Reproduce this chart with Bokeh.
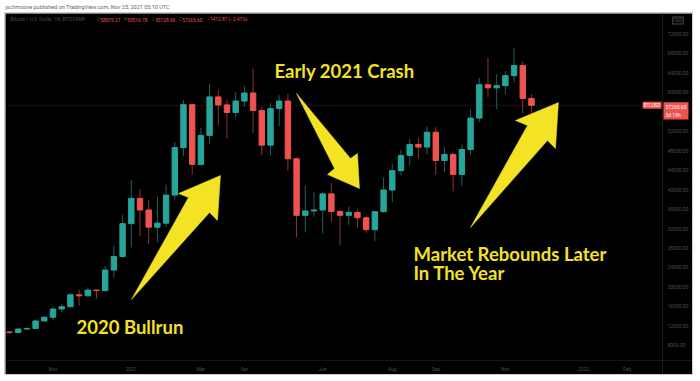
import pandas as pd
from bokeh.plotting import figure
from bokeh.models import (Range1d, FixedTicker, NumeralTickFormatter, Label, Span,
                          ColumnDataSource, LinearAxis)
from bokeh.layouts import column
from bokeh.embed import file_html
from bokeh.resources import INLINE

# Weekly BTC/USD candles (Bitstamp), week start dates
weeks = ["2020-09-28", "2020-10-05", "2020-10-12", "2020-10-19", "2020-10-26", "2020-11-02",
         "2020-11-09", "2020-11-16", "2020-11-23", "2020-11-30", "2020-12-07", "2020-12-14",
         "2020-12-21", "2020-12-28", "2021-01-04", "2021-01-11", "2021-01-18", "2021-01-25",
         "2021-02-01", "2021-02-08", "2021-02-15", "2021-02-22", "2021-03-01", "2021-03-08",
         "2021-03-15", "2021-03-22", "2021-03-29", "2021-04-05", "2021-04-12", "2021-04-19",
         "2021-04-26", "2021-05-03", "2021-05-10", "2021-05-17", "2021-05-24", "2021-05-31",
         "2021-06-07", "2021-06-14", "2021-06-21", "2021-06-28", "2021-07-05", "2021-07-12",
         "2021-07-19", "2021-07-26", "2021-08-02", "2021-08-09", "2021-08-16", "2021-08-23",
         "2021-08-30", "2021-09-06", "2021-09-13", "2021-09-20", "2021-09-27", "2021-10-04",
         "2021-10-11", "2021-10-18", "2021-10-25", "2021-11-01", "2021-11-08", "2021-11-15",
         "2021-11-22"]

opens = [10780, 10670, 11380, 11500, 13030, 13800, 15480, 15960, 18400, 18180, 19360, 19270,
         23480, 26250, 33000, 38180, 35800, 32260, 33100, 38850, 48600, 57400, 45150, 51100,
         59000, 57350, 55800, 58150, 59800, 56200, 49100, 56600, 58150, 46300, 34700, 35600,
         35800, 39100, 35500, 34700, 35300, 34200, 31750, 35450, 39900, 43850, 47000, 49250,
         48700, 51750, 45950, 47200, 43100, 48200, 54650, 61500, 60850, 61300, 63350, 65450,
         58679.27]
highs = [10950, 11490, 11720, 13350, 14080, 15970, 16480, 18810, 19480, 19920, 19420, 24300,
         28400, 34800, 41950, 40100, 37800, 38550, 41000, 49700, 58350, 57600, 52600, 61700,
         60500, 58400, 60000, 61200, 64800, 57000, 57800, 59400, 59600, 46600, 40800, 39400,
         39500, 41300, 35800, 36500, 35900, 34600, 35500, 42500, 45300, 48150, 50400, 50600,
         52900, 52800, 48700, 47600, 49200, 56400, 62900, 67000, 63700, 64300, 68950, 66300,
         59516.78]
lows = [10380, 10540, 11220, 11410, 12960, 13200, 14800, 15800, 16200, 18100, 17600, 19000,
        21900, 25900, 28130, 30400, 28800, 29200, 32300, 37900, 46900, 43000, 44900, 49300,
        53300, 50400, 54800, 57000, 51600, 47000, 47000, 53000, 43900, 30200, 31300, 34400,
        31000, 33300, 28600, 32700, 32100, 31100, 29400, 35250, 37400, 42900, 44900, 46300,
        47150, 43050, 43550, 39650, 40800, 47150, 53800, 58950, 56500, 59600, 62000, 55650,
        55128.60]
closes = [10670, 11380, 11500, 13030, 13800, 15480, 15960, 18400, 18180, 19360, 19270, 23480,
          26250, 33000, 38180, 35800, 32260, 33100, 38850, 48600, 57400, 45150, 51100, 59000,
          57350, 55800, 58150, 59800, 56200, 49100, 56600, 58150, 46300, 34700, 35600, 35800,
          39100, 35500, 34700, 35300, 34200, 31750, 35450, 39900, 43850, 47000, 49250, 48700,
          51750, 45950, 47200, 43100, 48200, 54650, 61500, 60850, 61300, 63350, 65450, 58678.47,
          57265.60]

# Time-scale labels: first weekly bar of each labelled month
month_dates = ["2020-11-02", "2021-01-04", "2021-03-01", "2021-04-05", "2021-06-07",
               "2021-08-02", "2021-09-06", "2021-11-01", "2022-01-03", "2022-02-07"]
month_labels = ["Nov", "2021", "Mar", "Apr", "Jun", "Aug", "Sep", "Nov", "2022", "Feb"]

price_ticks = [8000, 12000, 16000, 20000, 24000, 28000, 32000, 36000, 40000, 44000,
               48000, 52000, 56000, 60000, 64000, 68000, 72000]

UP = "#26a69a"
DOWN = "#ef5350"
YELLOW = "#f4e225"
DIM = "#4d4d4d"
SMALL_FONT = "Roboto"
BIG_FONT = "Lato"

# price-scale and time-scale edges inside the dark panel (bar index / price)
SCALE_X = 75.06
SCALE_Y = 4923

t0 = pd.Timestamp(weeks[0])
bar = [(pd.Timestamp(w) - t0).days / 7 for w in weeks]
month_bar = [(pd.Timestamp(d) - t0).days / 7 for d in month_dates]

# ---- header strip above the chart panel
head = figure(width=700, height=13, x_range=Range1d(0, 700), y_range=Range1d(0, 13),
              output_backend="svg", toolbar_location=None, x_axis_location=None,
              y_axis_location=None, min_border=0, outline_line_color=None,
              background_fill_color="white", border_fill_color="white")
head.grid.visible = False
head.add_layout(Label(x=5, y=6.5, text="jschmoove published on TradingView.com, Nov 25, 2021 05:10 UTC",
                      text_font=SMALL_FONT, text_font_size="5.5px", text_color="#666666",
                      text_baseline="middle"))

# ---- main chart panel (price and time scales live inside the dark frame)
p = figure(width=687, height=361, x_range=Range1d(-0.46, 78.51), y_range=Range1d(2051, 76103),
           output_backend="svg", toolbar_location=None, x_axis_location=None,
           y_axis_location=None, min_border=0,
           background_fill_color="black", border_fill_color="black", outline_line_color=None,
           margin=(0, 8, 7, 5), styles={"outline": "1px solid #cfcfcf"})
p.grid.visible = False

yax = LinearAxis(fixed_location=SCALE_X, ticker=FixedTicker(ticks=price_ticks),
                 formatter=NumeralTickFormatter(format="0.00"))
yax.major_label_text_color = DIM
yax.major_label_text_font = SMALL_FONT
yax.major_label_text_font_size = "5px"
yax.major_tick_line_color = None
yax.major_tick_out = 0
yax.major_tick_in = 0
yax.minor_tick_line_color = None
yax.axis_line_color = "#1e1e1e"
yax.major_label_standoff = 5
p.add_layout(yax, "right")

xax = LinearAxis(fixed_location=SCALE_Y, ticker=FixedTicker(ticks=month_bar),
                 major_label_overrides={b: lab for b, lab in zip(month_bar, month_labels)})
xax.major_label_text_color = DIM
xax.major_label_text_font = SMALL_FONT
xax.major_label_text_font_size = "5px"
xax.major_tick_line_color = None
xax.major_tick_out = 0
xax.major_tick_in = 0
xax.minor_tick_line_color = None
xax.axis_line_color = "#161616"
xax.major_label_standoff = 6
p.add_layout(xax, "below")

# candles
def candle_source(rising):
    sel = [i for i in range(len(closes)) if (closes[i] >= opens[i]) == rising]
    return ColumnDataSource(dict(
        x=[bar[i] for i in sel],
        high=[highs[i] for i in sel],
        low=[lows[i] for i in sel],
        top=[max(opens[i], closes[i]) for i in sel],
        bottom=[min(opens[i], closes[i]) for i in sel],
    ))

for rising, col in ((True, UP), (False, DOWN)):
    src = candle_source(rising)
    p.segment(x0="x", y0="low", x1="x", y1="high", source=src, line_color=col,
              line_alpha=0.6, line_width=1)
    p.vbar(x="x", width=0.62, top="top", bottom="bottom", source=src,
           fill_color=col, line_color=col, line_width=1)

last_close = closes[-1]
p.add_layout(Span(location=last_close, dimension="width", line_color=DOWN, line_alpha=0.45,
                  line_dash="1 2", line_width=1))

# annotation arrows, vertices in (bar, price)
arrows = [
    ([14.02, 20.57, 19.43, 24.25, 23.91, 22.99], [17436, 38359, 39179, 42872, 33641, 35282]),
    ([32.99, 39.20, 40.00, 40.23, 36.55, 37.36], [59693, 46359, 47385, 40205, 43077, 44308]),
    ([52.99, 59.54, 58.16, 63.10, 62.76, 61.84], [32205, 53129, 54155, 57847, 48410, 50052]),
]
p.patches(xs=[a[0] for a in arrows], ys=[a[1] for a in arrows], fill_color=YELLOW,
          line_color=YELLOW, line_width=0.5)

notes = [
    ("2020 Bullrun", 7.70, 11700),
    ("Early 2021 Crash", 30.46, 64410),
    ("Market Rebounds Later", 46.44, 26670),
    ("In The Year", 46.44, 22970),
]
for txt, bx, py in notes:
    p.add_layout(Label(x=bx, y=py, text=txt, text_color=YELLOW, text_font=BIG_FONT,
                       text_font_size="18.5px", text_font_style="bold",
                       text_baseline="alphabetic"))

# symbol tag and last price tag
p.add_layout(Label(x=SCALE_X, y=last_close, x_offset=-1, text="BTCUSD", text_align="right",
                   text_baseline="middle", text_color="white", text_font=SMALL_FONT,
                   text_font_size="4.5px", background_fill_color=DOWN, padding=1))
p.add_layout(Label(x=SCALE_X, y=last_close, x_offset=1, y_offset=3,
                   text=f"{last_close:.2f}\n3d 19h", text_align="left", text_baseline="top",
                   text_color="white", text_font=SMALL_FONT, text_font_size="5px",
                   background_fill_color=DOWN, padding=2))

# currency badge at the top of the price scale
p.add_layout(Label(x=76.84, y=74670, text="USD", text_align="center", text_baseline="middle",
                   text_color="#5a5a5a", text_font=SMALL_FONT, text_font_size="4.5px",
                   border_line_color="#4a4a4a", border_line_width=1, padding=1))

# OHLC legend line
change = closes[-1] - closes[-2]
pct = change / closes[-2] * 100
legend_parts = [
    ("Bitcoin / U.S. Dollar, 1W, BITSTAMP:", 0.12, DIM),
    ("O", 10.03, DIM), (f"{opens[-1]:.2f}", 10.43, DOWN),
    ("H", 13.13, DIM), (f"{highs[-1]:.2f}", 13.53, DOWN),
    ("L", 16.40, DIM), (f"{lows[-1]:.2f}", 16.74, DOWN),
    ("C", 19.50, DIM), (f"{closes[-1]:.2f}", 19.85, DOWN),
    (f"\u2212{abs(change):.2f} (\u2212{abs(pct):.2f}%)", 22.72, DOWN),
]
for txt, bx, col in legend_parts:
    p.add_layout(Label(x=bx, y=74870, text=txt, text_color=col, text_font=SMALL_FONT,
                       text_font_size="4.8px", text_baseline="middle"))

layout = column(head, p)
open("out.html", "w").write(file_html(layout, INLINE))
